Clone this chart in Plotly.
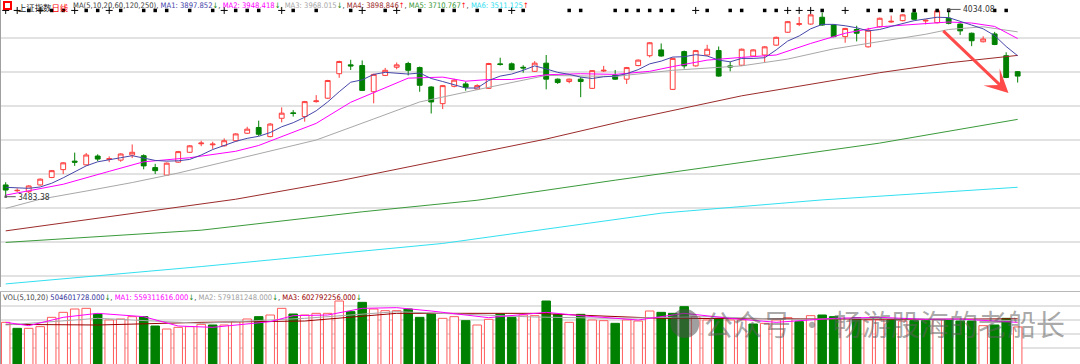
import plotly.graph_objects as go

# ---------------- data ----------------
idx = list(range(89))

open_ = [3518,3501,3498,3518,3540,3563,3588,3577,3603,3593,
         3591,3606,3604,3569,3547,3585,3614,3639,3636,3633,
         3648,3670,3687,3660,3714,3730,3719,3763,3773,3845,
         3871,3869,3792,3840,3864,3875,3863,3806,3757,3808,
         3815,3800,3802,3874,3874,3864,3852,3876,3829,3822,
         3829,3802,3853,3841,3829,3869,3898,3915,3799,3910,
         3868,3900,3913,3868,3870,3897,3900,3929,3967,3990,
         3991,4011,3988,3954,3975,3924,3983,3997,4001,4024,
         4000,3995,4008,3991,3964,3939,3962,3898,3851]
high = [3526,3508,3517,3537,3562,3585,3613,3612,3608,3602,
        3611,3637,3608,3580,3584,3618,3635,3648,3645,3655,
        3670,3689,3707,3700,3746,3738,3765,3782,3827,3883,
        3886,3884,3845,3862,3878,3880,3866,3808,3812,3830,
        3822,3814,3877,3892,3878,3870,3882,3900,3831,3831,
        3835,3856,3868,3856,3865,3887,3938,3934,3892,3913,
        3915,3930,3925,3880,3919,3917,3926,3954,4000,4012,
        4020,4025,3990,3980,3986,3980,4010,4016,4020,4026,
        4005,4032,4034.08,3993,3966,3955,3968,3908,3853]
low = [3483.38,3497,3494,3516,3538,3550,3574,3575,3588,3585,
       3586,3597,3564,3550,3545,3583,3612,3632,3624,3631,
       3646,3668,3662,3658,3702,3719,3704,3760,3771,3833,
       3856,3794,3758,3838,3858,3840,3792,3728,3741,3805,
       3795,3797,3800,3869,3855,3848,3850,3799,3815,3817,
       3776,3800,3850,3827,3815,3867,3893,3895,3797,3860,
       3866,3898,3836,3852,3868,3895,3878,3927,3965,3985,
       3989,3986,3952,3936,3940,3922,3981,3995,3999,4003,
       3990,3993,3990,3959,3926,3937,3929,3832,3819]
close = [3503,3502,3515,3535,3560,3583,3585,3606,3594,3595,
         3609,3614,3574,3560,3582,3616,3633,3641,3638,3648,
         3668,3682,3667,3697,3729,3728,3763,3765,3825,3881,
         3868,3796,3843,3855,3871,3855,3811,3762,3810,3826,
         3805,3810,3875,3872,3857,3862,3876,3829,3819,3829,
         3822,3854,3855,3829,3863,3885,3936,3897,3890,3868,
         3913,3917,3838,3865,3917,3915,3924,3952,3998,3992,
         4018,3988,3954,3978,3964,3973,4008,3999,4018,4005,
         4002,4030,3993,3971,3942,3947,3931,3834,3838]

# volume, in units of 1e8 shares
volume = [5.60,4.88,4.88,5.08,6.20,6.80,7.20,7.28,6.60,5.88,
          6.00,6.28,6.28,5.16,4.80,5.00,5.08,5.36,5.28,5.28,
          5.68,6.00,6.28,6.48,7.28,6.60,6.48,6.68,6.68,8.16,
          6.88,8.00,7.20,7.00,7.00,7.20,6.20,6.68,6.08,6.28,
          5.80,5.28,5.96,6.60,6.20,6.48,6.40,8.16,6.56,5.60,
          6.56,5.88,5.80,5.48,5.88,5.76,6.96,6.80,6.68,7.48,
          6.28,5.88,6.08,5.88,5.88,5.40,5.48,5.88,6.16,5.68,
          6.40,6.48,6.28,6.08,6.16,5.88,5.88,5.88,5.76,5.80,
          5.80,5.96,5.88,5.76,5.76,5.20,5.28,6.08,5.046]

# moving-average lines
ma5 = [3511,3509,3508,3512,3523,3539,3556,3574,3586,3593,
       3598,3604,3597,3590,3588,3589,3593,3606,3622,3635,
       3646,3655,3661,3672,3689,3701,3717,3736,3762,3792,
       3820,3827,3843,3849,3847,3844,3847,3831,3822,3813,
       3803,3803,3825,3838,3844,3855,3868,3859,3849,3843,
       3835,3831,3836,3838,3845,3857,3874,3882,3894,3895,
       3901,3897,3885,3880,3890,3890,3892,3915,3941,3956,
       3977,3990,3990,3986,3980,3971,3975,3984,3992,4001,
       4006,4011,4010,4000,3988,3977,3957,3925,3897.85]
ma10_idx = [0,2,5,9,12,16,20,22,25,27,30,33,35,38,40,42,44,47,50,53,56,58,61,64,67,70,73,76,79,82,84,86,88]
ma10_val = [3488,3500,3520,3558,3586,3598,3617,3634,3673,3699,3761,3805,3832,3835,3823,3828,3828,3842,3845,3843,
            3852,3866,3885,3893,3900,3934,3964,3983,3991,3997,3994,3984,3948.42]
ma20_idx = [0,3,7,11,15,19,23,27,32,36,41,47,53,58,64,68,72,76,80,82,85,88]
ma20_val = [3449,3476,3500,3525,3553,3585,3618,3650,3712,3762,3798,3840,3837,3855,3868,3888,3918,3939,3961,3975,3983,3968.02]
ma60_idx = [0,20,27,29,47,54,64,76,82,88]
ma60_val = [3383,3476,3518,3530,3653,3708,3780,3848,3877,3898.85]
ma120_idx = [0,17,31,41,53,76,88]
ma120_val = [3349,3385,3439,3473,3532,3641,3710.77]
ma250_idx = [0,17,38,57,71,88]
ma250_val = [3227,3278,3346,3435,3474,3511.13]

vma5_idx = [0,2,5,8,12,15,18,20,23,25,28,31,34,37,42,47,50,55,59,63,67,72,76,80,83,88]
vma5_val = [5.60,5.20,6.20,6.68,6.28,5.16,5.00,5.28,5.68,6.40,6.48,7.28,7.36,6.96,6.16,6.80,6.40,5.88,6.68,6.08,5.60,6.08,6.20,5.96,6.00,5.593]
vma10_idx = [0,8,17,26,34,40,46,53,61,68,76,83,88]
vma10_val = [5.28,6.08,5.48,6.08,6.88,6.56,6.24,6.08,6.28,5.96,6.08,5.96,5.792]
vma20_idx = [0,8,17,26,34,46,57,68,80,88]
vma20_val = [5.36,5.28,5.60,5.76,6.68,6.68,6.08,6.00,5.96,6.028]

sig_square_idx = [2,4,5,7,8,10,12,13,14,16,18,20,21,22,25,27,30,33,36,38,39,41,43,45,49,50,53,54,55,56,57,58,
                  61,63,64,66,67,71,75,76,77,78,79,80,81,82,86,87]
sig_dagger_idx = [0,1,3,6,9,19,24,31,34,44,60,68,69,70,73]

price_grid = [3950, 3850, 3750, 3650, 3550, 3450, 3350, 3250]
vol_grid = [7.56, 5.88, 4.20, 2.52]

# ---------------- styling ----------------
RED = "#FF3B3B"
GREEN = "#008000"
C_MA1 = "#4646AA"
C_MA2 = "#FF00FF"
C_MA3 = "#A8A8A8"
C_MA4 = "#9C2B2B"
C_MA5 = "#3A9A3A"
C_MA6 = "#33E0F0"

X_RANGE = [-0.409, 93.42]
P_RANGE = [3217.94, 4061.72]
V_RANGE = [0.6, 9.24]
SIGNAL_Y = 4031.0

fig = go.Figure()

fig.add_trace(go.Candlestick(
    x=idx, open=open_, high=high, low=low, close=close,
    increasing=dict(line=dict(color=RED, width=1), fillcolor="#FFFFFF"),
    decreasing=dict(line=dict(color=GREEN, width=1), fillcolor=GREEN),
    whiskerwidth=0, xaxis="x", yaxis="y", hoverinfo="skip", showlegend=False))

def line(xs, ys, color, axis="y", xa="x", w=1):
    fig.add_trace(go.Scatter(x=xs, y=ys, mode="lines", line=dict(color=color, width=w),
                             xaxis=xa, yaxis=axis, hoverinfo="skip", showlegend=False))

line(ma250_idx, ma250_val, C_MA6)
line(ma120_idx, ma120_val, C_MA5)
line(ma60_idx, ma60_val, C_MA4)
line(ma20_idx, ma20_val, C_MA3)
line(ma10_idx, ma10_val, C_MA2)
line(idx, ma5, C_MA1)

# signal markers row
fig.add_trace(go.Scatter(x=sig_square_idx, y=[SIGNAL_Y] * len(sig_square_idx), mode="markers",
                         marker=dict(symbol="square", size=3.5, color="#000000"),
                         hoverinfo="skip", showlegend=False))
fig.add_trace(go.Scatter(x=sig_dagger_idx, y=[SIGNAL_Y] * len(sig_dagger_idx), mode="markers",
                         marker=dict(symbol="cross-thin-open", size=5, color="#000000",
                                     line=dict(color="#000000", width=1)),
                         hoverinfo="skip", showlegend=False))

# volume bars: colour by close vs previous close
vfill, vline = [], []
for i in idx:
    up = i == 0 or close[i] >= close[i - 1]
    vfill.append("#FFFFFF" if up else GREEN)
    vline.append("#FF5A5A" if up else GREEN)
fig.add_trace(go.Bar(x=idx, y=volume, width=0.74, marker=dict(color=vfill, line=dict(color=vline, width=1)),
                     xaxis="x2", yaxis="y2", hoverinfo="skip", showlegend=False))
line(vma20_idx, vma20_val, "#990000", axis="y2", xa="x2")
line(vma10_idx, vma10_val, "#A8A8A8", axis="y2", xa="x2")
line(vma5_idx, vma5_val, "#FF00FF", axis="y2", xa="x2")

NARROW = "Liberation Sans Narrow, DejaVu Sans Condensed, Liberation Sans"
CJK = "Noto Sans CJK SC"
TXT = 7.6

def sp(text, color):
    return f'<span style="color:{color}">{text}</span>'

dn = sp("↓", GREEN)
upa = sp("↑", "#FF0000")
title_cn = '<span style="color:#222222">上证指数</span><span style="color:#FF0000">日线</span>'
title = (sp("MA(5,10,20,60,120,250), ", "#444444")
         + sp("MA1: 3897.852", C_MA1) + dn + sp(", ", "#444444")
         + sp("MA2: 3948.418", C_MA2) + dn + sp(", ", "#444444")
         + sp("MA3: 3968.015", C_MA3) + dn + sp(", ", "#444444")
         + sp("MA4: 3898.846", C_MA4) + upa + sp(", ", "#444444")
         + sp("MA5: 3710.767", C_MA5) + upa + sp(", ", "#444444")
         + sp("MA6: 3511.125", C_MA6) + upa)
vtitle = (sp("VOL(5,10,20) ", "#444444") + sp("504601728.000", "#333399") + dn + sp(", ", "#444444")
          + sp("MA1: 559311616.000", "#FF00FF") + dn + sp(", ", "#444444")
          + sp("MA2: 579181248.000", "#A0A0A0") + dn + sp(", ", "#444444")
          + sp("MA3: 602792256.000", "#990000") + dn)

annotations = [
    dict(xref="paper", yref="paper", x=16 / 1080, y=1 - 6.5 / 364, xanchor="left", yanchor="middle",
         text=title_cn, showarrow=False, font=dict(family=CJK, size=8.4), borderpad=0),
    dict(xref="paper", yref="paper", x=71 / 1080, y=1 - 5.5 / 364, xanchor="left", yanchor="middle",
         text=title, showarrow=False, font=dict(family=NARROW, size=TXT), borderpad=0),
    dict(xref="paper", yref="paper", x=1 / 1080, y=1 - 297 / 364, xanchor="left", yanchor="middle",
         text=vtitle, showarrow=False, font=dict(family=NARROW, size=TXT), borderpad=0),
    dict(x=82, y=high[82], xref="x", yref="y", text=sp("4034.08", "#333333"), showarrow=True,
         ax=12, ay=0, xanchor="left", arrowhead=7, arrowsize=0.6, arrowwidth=1, arrowcolor="#555555",
         font=dict(family=NARROW, size=8.5)),
    dict(x=0, y=low[0], xref="x", yref="y", text=sp("3483.38", "#333333"), showarrow=True,
         ax=10, ay=0, xanchor="left", arrowhead=7, arrowsize=0.6, arrowwidth=1, arrowcolor="#555555",
         font=dict(family=NARROW, size=8.5)),
    dict(x=87.2, y=3788, xref="x", yref="y", ax=81.4, ay=3975, axref="x", ayref="y", text="",
         showarrow=True, arrowhead=3, arrowsize=1.3, arrowwidth=3, arrowcolor="#FF4A4A"),
    dict(xref="paper", yref="paper", x=702 / 1080, y=1 - 323 / 364, xanchor="left", yanchor="middle",
         text="公众号 · 畅游股海的老船长", showarrow=False,
         font=dict(family=CJK, size=29, color="rgba(95,95,95,0.55)")),
]

shapes = [
    dict(type="rect", xref="paper", yref="paper", x0=3 / 1080, x1=10 / 1080, y0=1 - 9 / 364, y1=1 - 2 / 364,
         line=dict(color="#FF0000", width=2), fillcolor="#FFFFFF"),
    dict(type="circle", xref="paper", yref="paper", x0=670 / 1080, x1=699 / 1080, y0=1 - 338 / 364,
         y1=1 - 309 / 364, line=dict(width=0), fillcolor="rgba(80,80,80,0.55)"),
]

fig.update_layout(
    width=1080, height=364, margin=dict(l=1, r=0, t=0, b=0),
    paper_bgcolor="#FFFFFF", plot_bgcolor="#FFFFFF", showlegend=False,
    boxgap=0.4, annotations=annotations, shapes=shapes, hovermode=False,
    xaxis=dict(domain=[0, 1], range=X_RANGE, anchor="y", showticklabels=False, showgrid=False,
               zeroline=False, ticks="", rangeslider=dict(visible=False)),
    xaxis2=dict(domain=[0, 1], range=X_RANGE, anchor="y2", matches="x", showticklabels=False,
                showgrid=False, zeroline=False, ticks="", showline=True, mirror=True,
                linecolor="#B8B8B8", linewidth=1),
    yaxis=dict(domain=[77 / 364, 1], range=P_RANGE, tickvals=price_grid, showticklabels=False,
               gridcolor="#E2E2E2", gridwidth=1.5, zeroline=False, ticks="", showline=True,
               linecolor="#A0A0A0", linewidth=1),
    yaxis2=dict(domain=[0, 72 / 364], range=V_RANGE, tickvals=vol_grid, showticklabels=False,
                gridcolor="#E2E2E2", gridwidth=1.5, zeroline=False, ticks="", showline=True,
                linecolor="#A0A0A0", linewidth=1),
)

fig.write_html("out.html", config={"displayModeBar": False, "staticPlot": True},
               post_script="document.body.style.margin='0px';document.body.style.overflow='hidden';")
